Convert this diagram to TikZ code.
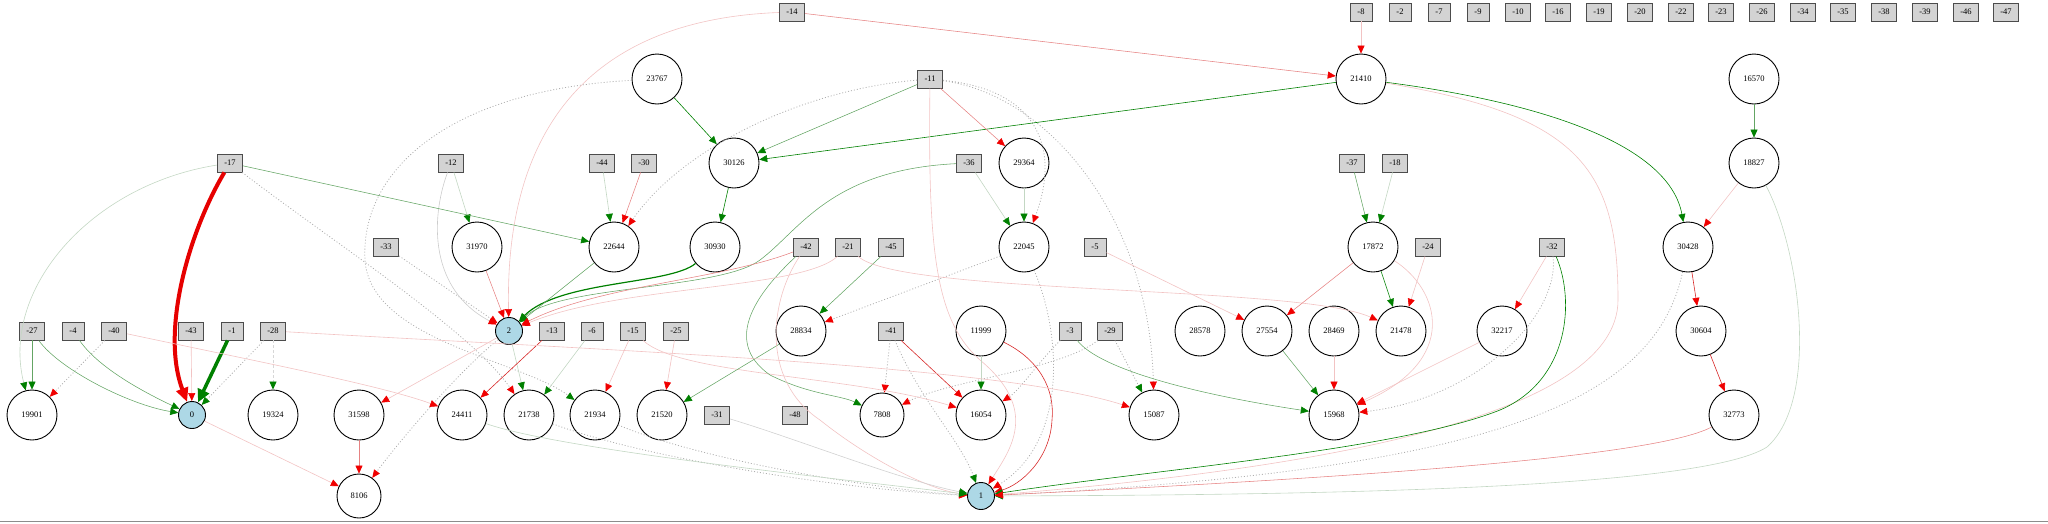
\documentclass[tikz,border=0pt]{standalone}
\usepackage{fontspec}
\setmainfont{Liberation Serif}
\usetikzlibrary{arrows.meta}
\newcommand\nodefont{\fontsize{8.5pt}{10pt}\selectfont}
\definecolor{gS}{RGB}{0,128,0}
\definecolor{gM}{RGB}{100,165,100}
\definecolor{gW}{RGB}{195,215,195}
\definecolor{rS}{RGB}{215,40,40}
\definecolor{rM}{RGB}{230,130,130}
\definecolor{rW}{RGB}{242,195,195}
\definecolor{dG}{RGB}{175,175,175}
\definecolor{dL}{RGB}{215,215,215}
\definecolor{gTip}{RGB}{0,128,0}
\definecolor{rTip}{RGB}{240,0,0}
\definecolor{inFill}{RGB}{211,211,211}
\definecolor{outFill}{RGB}{173,216,230}
\tikzset{
 inp/.style={rectangle, draw=black!70, fill=inFill, line width=0.9pt, minimum width=22pt, minimum height=18pt, inner xsep=7pt, inner ysep=0pt, font=\nodefont},
 hid/.style={circle, draw=black, line width=0.9pt, minimum size=50pt, inner sep=0pt, font=\nodefont},
 hids/.style={hid, minimum size=44pt},
 outp/.style={circle, draw=black, fill=outFill, line width=0.9pt, minimum size=27pt, inner sep=0pt, font=\nodefont},
 ga/.style={-{Triangle[length=8pt,width=7pt,color=gTip]}},
 ra/.style={-{Triangle[length=8pt,width=7pt,color=rTip]}},
 G1/.style={draw=gS, line width=0.6pt, ga},
 G2/.style={draw=gM, line width=0.55pt, ga},
 G3/.style={draw=gW, line width=0.6pt, ga},
 R1/.style={draw=rS, line width=0.6pt, ra},
 R2/.style={draw=rM, line width=0.55pt, ra},
 R3/.style={draw=rW, line width=0.6pt, ra},
 GR/.style={draw=black!20, line width=0.6pt, ra},
 DR/.style={draw=dG, line width=0.8pt, dash pattern=on 1pt off 2pt, ra},
 DG/.style={draw=dG, line width=0.8pt, dash pattern=on 1pt off 2pt, ga},
}
\begin{document}
\begin{tikzpicture}[x=1pt,y=-1pt]
\useasboundingbox (0,0) rectangle (2048,523);
% ---- input nodes
\node[inp] (m14) at (792,12) {-14};
\node[inp] (m8) at (1361,12) {-8};
\node[inp] (m2) at (1400,12) {-2};
\node[inp] (m7) at (1439,12) {-7};
\node[inp] (m9) at (1478,12) {-9};
\node[inp] (m10) at (1518,12) {-10};
\node[inp] (m16) at (1558,12) {-16};
\node[inp] (m19) at (1599,12) {-19};
\node[inp] (m20) at (1640,12) {-20};
\node[inp] (m22) at (1681,12) {-22};
\node[inp] (m23) at (1721,12) {-23};
\node[inp] (m26) at (1762,12) {-26};
\node[inp] (m34) at (1803,12) {-34};
\node[inp] (m35) at (1843,12) {-35};
\node[inp] (m38) at (1884,12) {-38};
\node[inp] (m39) at (1925,12) {-39};
\node[inp] (m46) at (1966,12) {-46};
\node[inp] (m47) at (2006,12) {-47};
\node[inp] (m11) at (930,79) {-11};
\node[inp] (m17) at (230,163) {-17};
\node[inp] (m12) at (451,163) {-12};
\node[inp] (m44) at (602,163) {-44};
\node[inp] (m30) at (644,163) {-30};
\node[inp] (m36) at (969,163) {-36};
\node[inp] (m37) at (1352,163) {-37};
\node[inp] (m18) at (1395,163) {-18};
\node[inp] (m33) at (386,247) {-33};
\node[inp] (m42) at (806,247) {-42};
\node[inp] (m21) at (848,247) {-21};
\node[inp] (m45) at (891,247) {-45};
\node[inp] (m5) at (1095,247) {-5};
\node[inp] (m24) at (1428,247) {-24};
\node[inp] (m32) at (1552,247) {-32};
\node[inp] (m27) at (32,331) {-27};
\node[inp] (m4) at (73,331) {-4};
\node[inp] (m40) at (114,331) {-40};
\node[inp] (m43) at (191,331) {-43};
\node[inp] (m1) at (232,331) {-1};
\node[inp] (m28) at (273,331) {-28};
\node[inp] (m13) at (552,331) {-13};
\node[inp] (m6) at (592,331) {-6};
\node[inp] (m15) at (633,331) {-15};
\node[inp] (m25) at (676,331) {-25};
\node[inp] (m41) at (891,331) {-41};
\node[inp] (m3) at (1070,331) {-3};
\node[inp] (m29) at (1110,331) {-29};
\node[inp] (m31) at (717,415) {-31};
\node[inp] (m48) at (795,415) {-48};
% ---- hidden nodes
\node[hid] (h23767) at (657,79) {23767};
\node[hid] (h21410) at (1361,79) {21410};
\node[hid] (h16570) at (1754,79) {16570};
\node[hid] (h30126) at (734,163) {30126};
\node[hid] (h29364) at (1024,163) {29364};
\node[hid] (h18827) at (1754,163) {18827};
\node[hid] (h31970) at (477,247) {31970};
\node[hid] (h22644) at (614,247) {22644};
\node[hid] (h30930) at (715,247) {30930};
\node[hid] (h22045) at (1024,247) {22045};
\node[hid] (h17872) at (1373,247) {17872};
\node[hid] (h30428) at (1688,247) {30428};
\node[hid] (h28834) at (801,331) {28834};
\node[hid] (h11999) at (981,331) {11999};
\node[hid] (h28578) at (1200,331) {28578};
\node[hid] (h27554) at (1267,331) {27554};
\node[hid] (h28469) at (1334,331) {28469};
\node[hid] (h21478) at (1401,331) {21478};
\node[hid] (h32217) at (1502,331) {32217};
\node[hid] (h30604) at (1701,331) {30604};
\node[hid] (h19901) at (32,415) {19901};
\node[hid] (h19324) at (273,415) {19324};
\node[hid] (h31598) at (359,415) {31598};
\node[hid] (h24411) at (462,415) {24411};
\node[hid] (h21738) at (529,415) {21738};
\node[hid] (h21934) at (595,415) {21934};
\node[hid] (h21520) at (662,415) {21520};
\node[hids] (h7808) at (882,415) {7808};
\node[hid] (h16054) at (981,415) {16054};
\node[hid] (h15087) at (1154,415) {15087};
\node[hid] (h15968) at (1334,415) {15968};
\node[hid] (h32773) at (1734,415) {32773};
\node[hids] (h8106) at (359,496) {8106};
% ---- output nodes
\node[outp] (o2) at (509,331) {2};
\node[outp] (o0) at (192,415) {0};
\node[outp] (o1) at (981,496) {1};
% ---- dotted connectors
\draw[DR] (m11) .. controls (800,90) and (680,150) .. (h22644);
\draw[DR] (m11) .. controls (1040,90) and (1060,150) .. (h22045);
\draw[DR] (m11) .. controls (1050,95) and (1150,220) .. (h15087);
\draw[DR] (m17) .. controls (330,240) and (470,330) .. (h21738);
\draw[DG] (h23767) .. controls (450,90) and (360,170) .. (365,260) .. controls (370,340) and (520,360) .. (h21934);
\draw[DR] (m33) -- (o2);
\draw[DR] (o2) .. controls (460,370) and (400,440) .. (h8106);
\draw[DR] (h22045) -- (h28834);
\draw[DR] (h22045) .. controls (1060,330) and (1070,440) .. (o1);
\draw[DR] (m41) -- (h7808);
\draw[DG] (m41) .. controls (920,400) and (960,440) .. (o1);
\draw[DR] (m3) .. controls (1040,360) and (1020,390) .. (h16054);
\draw[DG] (m29) -- (h15087);
\draw[DR] (m29) .. controls (1060,370) and (950,380) .. (h7808);
\draw[DR] (m32) .. controls (1560,320) and (1470,400) .. (h15968);
\draw[DR] (h30428) .. controls (1655,400) and (1500,470) .. (o1);
\draw[DR] (h21738) .. controls (650,460) and (850,490) .. (o1);
\draw[DR] (h21934) .. controls (700,460) and (880,490) .. (o1);
\draw[DR] (m40) -- (h19901);
\draw[DG, draw=dL, dash pattern=on 3pt off 2pt] (m28) -- (h19324);
\draw[DG] (m28) -- (o0);
% ---- top area
\draw[R2] (m14) -- (h21410);
\draw[R3] (m14) .. controls (580,20) and (505,140) .. (o2);
\draw[R3] (m8) -- (h21410);
\draw[G1] (h21410) -- (h30126);
\draw[G1] (h21410) .. controls (1560,105) and (1670,150) .. (h30428);
\draw[R3] (h21410) .. controls (1580,115) and (1618,170) .. (1618,300) .. controls (1618,420) and (1300,470) .. (o1);
\draw[G1] (h23767) -- (h30126);
\draw[G2] (m11) -- (h30126);
\draw[R2] (m11) -- (h29364);
\draw[R3] (m11) .. controls (928,250) and (935,320) .. (980,360) .. controls (1040,410) and (1010,450) .. (o1);
\draw[R1] (h11999) .. controls (1040,360) and (1055,390) .. (1052,420) .. controls (1050,460) and (1020,485) .. (o1);
\draw[G3] (h29364) -- (h22045);
\draw[G3] (m36) -- (h22045);
\draw[G2] (m36) .. controls (830,170) and (800,230) .. (760,260) .. controls (720,290) and (560,285) .. (o2);
\draw[G1] (h30126) -- (h30930);
\draw[G1, line width=1.2pt] (h30930) .. controls (670,285) and (560,280) .. (o2);
\draw[G2] (h22644) -- (o2);
\draw[G3] (m44) -- (h22644);
\draw[R2] (m30) -- (h22644);
\draw[G3] (m12) -- (h31970);
\draw[GR] (m12) .. controls (430,220) and (430,290) .. (o2);
\draw[G2] (m17) -- (h22644);
\draw[draw={rgb,255:red,230;green,0;blue,0}, line width=4pt, -{Triangle[length=14pt,width=12pt,color=rTip]}] (m17) .. controls (190,230) and (160,330) .. (o0);
\draw[G3] (m17) .. controls (90,185) and (0,290) .. (h19901);
\draw[R2] (h31970) -- (o2);
% ---- middle area
\draw[R3] (o2) -- (h31598);
\draw[G3] (o2) -- (h21738);
\draw[R1] (m13) -- (h24411);
\draw[G3] (m6) -- (h21738);
\draw[R3] (m15) -- (h21934);
\draw[R3] (m15) .. controls (680,375) and (850,375) .. (h16054);
\draw[R3] (m25) -- (h21520);
\draw[G2] (h28834) -- (h21520);
\draw[G2] (m45) -- (h28834);
\draw[G2] (m42) .. controls (760,290) and (720,340) .. (770,375) .. controls (810,395) and (840,395) .. (h7808);
\draw[R2] (m42) .. controls (720,280) and (600,285) .. (o2);
\draw[R3] (m21) .. controls (800,290) and (620,285) .. (o2);
\draw[R3] (m21) .. controls (900,295) and (1300,285) .. (h21478);
\draw[R3] (m42) .. controls (770,300) and (760,380) .. (820,420) .. controls (870,460) and (930,490) .. (o1);
\draw[G3] (h24411) .. controls (560,450) and (850,480) .. (o1);
\draw[G3, draw=black!18] (m31) .. controls (800,440) and (900,480) .. (o1);
\draw[R1] (m41) -- (h16054);
\draw[G3] (h11999) -- (h16054);
% ---- right area
\draw[G2] (m3) .. controls (1100,370) and (1200,395) .. (h15968);
\draw[G2] (h27554) -- (h15968);
\draw[R3] (h28469) -- (h15968);
\draw[R3] (h17872) .. controls (1440,290) and (1460,360) .. (h15968);
\draw[R3] (h32217) -- (h15968);
\draw[R2] (h17872) -- (h27554);
\draw[G1] (h17872) -- (h21478);
\draw[R3] (m24) -- (h21478);
\draw[R3] (m5) -- (h27554);
\draw[G2] (m37) -- (h17872);
\draw[G3] (m18) -- (h17872);
\draw[R3] (m32) -- (h32217);
\draw[G1] (m32) .. controls (1575,300) and (1570,380) .. (1500,410) .. controls (1400,450) and (1150,470) .. (o1);
\draw[R3] (h18827) -- (h30428);
\draw[G3] (h18827) .. controls (1800,250) and (1820,400) .. (1767,447) .. controls (1700,490) and (1300,495) .. (o1);
\draw[G2] (h16570) -- (h18827);
\draw[R1] (h30428) -- (h30604);
\draw[R1] (h30604) -- (h32773);
\draw[R2] (h32773) .. controls (1650,460) and (1300,480) .. (o1);
% ---- left area
\draw[R3] (o0) -- (h8106);
\draw[R2] (h31598) -- (h8106);
\draw[R3] (m43) -- (o0);
\draw[draw=gS, line width=3.5pt, -{Triangle[length=13pt,width=12pt,color=gTip]}] (m1) -- (o0);
\draw[G2] (m27) -- (h19901);
\draw[G2] (m27) .. controls (60,370) and (130,405) .. (o0);
\draw[G2] (m4) .. controls (100,370) and (150,395) .. (o0);
\draw[R3] (m40) .. controls (250,360) and (380,385) .. (h24411);
\draw[R3] (m28) .. controls (600,350) and (1000,365) .. (h15087);
% ---- frame line at the bottom
\draw[line width=1.5pt, black!45] (0,521.5) -- (2048,521.5);
\end{tikzpicture}
\end{document}
